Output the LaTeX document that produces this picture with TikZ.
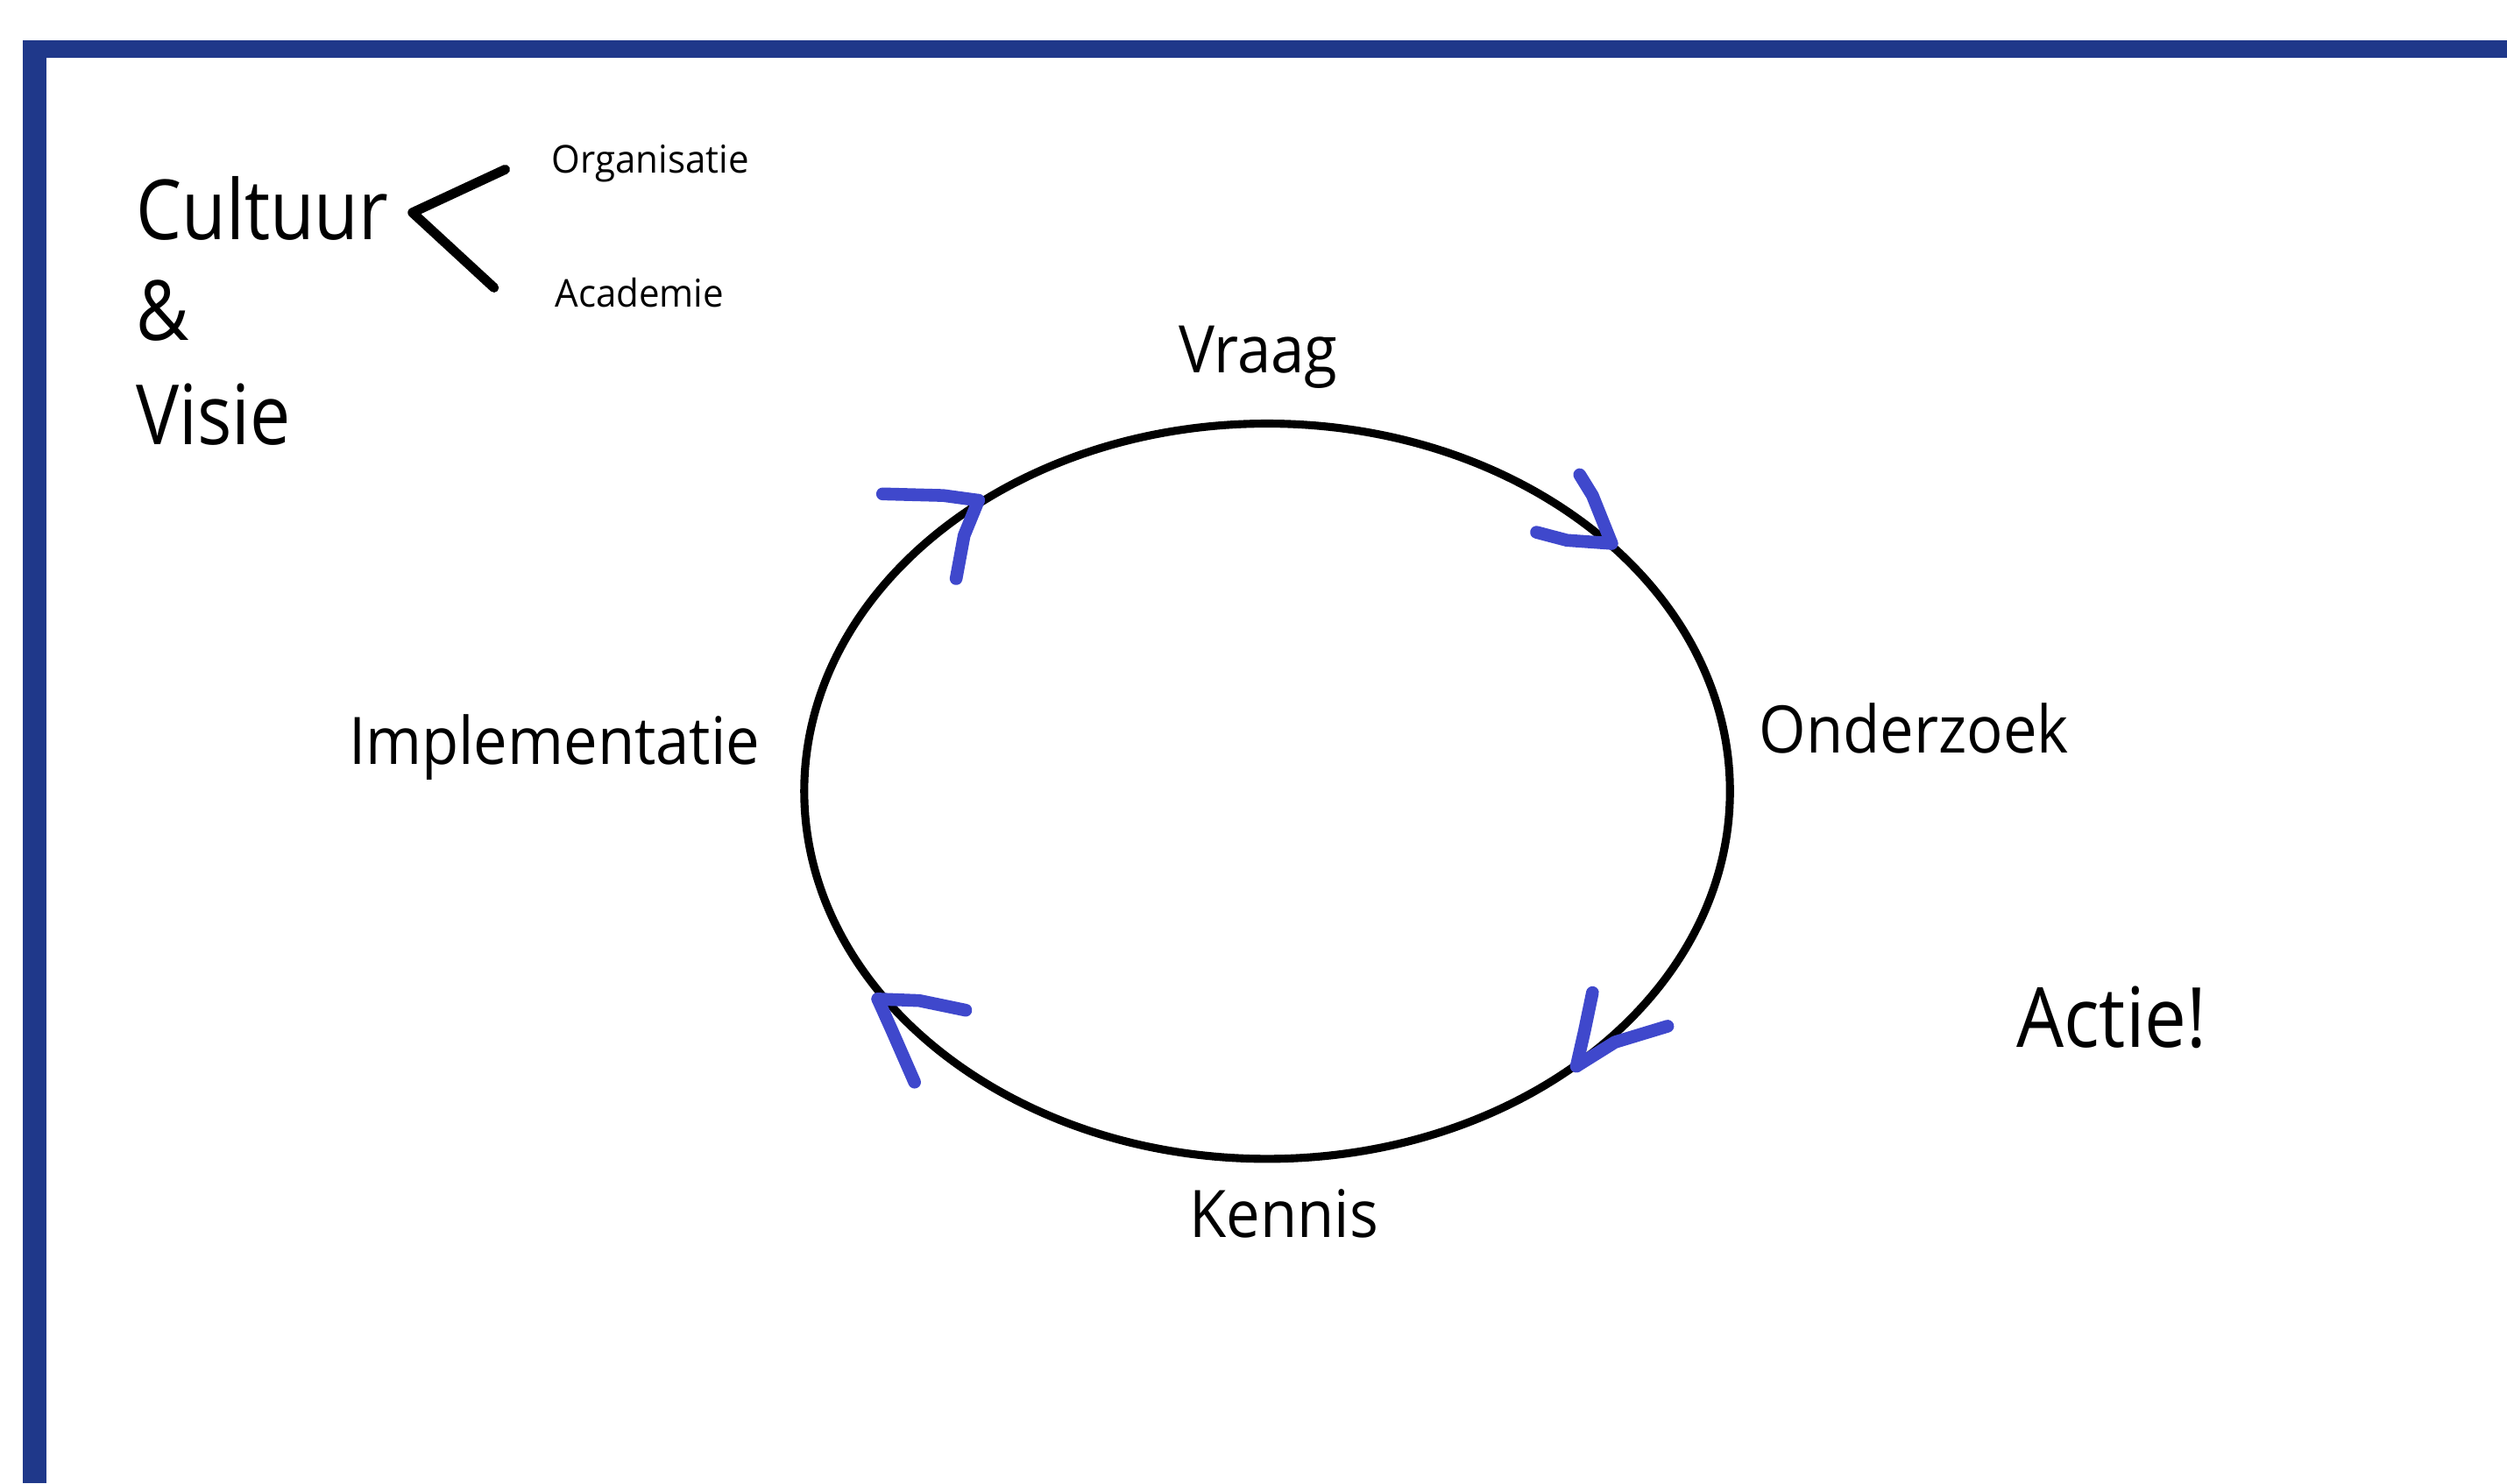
\documentclass[tikz,border=0pt]{standalone}
\usepackage{fontspec}
\usepackage{graphicx}
\setmainfont{Open Sans}
\usetikzlibrary{shapes.geometric}
\definecolor{frameblue}{RGB}{31,56,138}
\definecolor{penblue}{RGB}{63,72,204}
\newcommand{\narrow}[2][0.92]{\scalebox{#1}[1]{#2}}
\tikzset{
  lbl/.style={inner sep=0pt, anchor=base west, font=\fontsize{41}{48}\selectfont},
  big/.style={inner sep=0pt, anchor=base west, font=\fontsize{52}{60}\selectfont},
  small/.style={inner sep=0pt, anchor=base west, font=\fontsize{24}{28}\selectfont},
  pen/.style={penblue, line width=8pt, line cap=round, line join=round},
  ink/.style={black, line width=6pt, line cap=round, line join=round}
}
\begin{document}
\begin{tikzpicture}[x=1pt,y=-1pt]
\useasboundingbox (0,0) rectangle (1568,928);
\fill[white] (0,0) rectangle (1568,928);
\fill[frameblue] (14,25) rectangle (1568,928);
\fill[white] (29,36) rectangle (1568,928);
% titles
\node[big] (cult) at (85,150) {\narrow[0.87]{Cultuur}};
\node[big] (amp) at (85,213) {\narrow[0.87]{\&}};
\node[big] (vis) at (85,278) {\narrow[0.87]{Visie}};
\node[small] (org) at (345,108) {\narrow[0.96]{Organisatie}};
\node[small] (acad) at (347,192) {\narrow[0.96]{Academie}};
\coordinate (chtop) at (316,106);
\coordinate (chtip) at (258,133);
\coordinate (chbot) at (309,180);
\draw[ink] (chtop) -- (chtip) -- (chbot);
% cycle
\node[draw, ellipse, line width=5pt, minimum width=579pt, minimum height=460pt, inner sep=0pt] (cyc) at (792.5,495) {};
\node[lbl, anchor=base] (vraag) at (787,233) {\narrow{Vraag}};
\node[lbl] (ond) at (1100,471) {\narrow{Onderzoek}};
\node[lbl] (impl) at (218,478) {\narrow{Implementatie}};
\node[lbl, anchor=base] (kennis) at (803,774) {\narrow{Kennis}};
\node[big] (actie) at (1261,655) {\narrow[0.9]{Actie!}};
% arrowheads
\coordinate (a1) at (612,313);
\draw[pen] (552,309) -- (590,310) -- (a1);
\draw[pen] (598,362) -- (603,335) -- (a1);
\coordinate (a2) at (1008,340);
\draw[pen] (988,297) -- (996,310) -- (a2);
\draw[pen] (961,333) -- (980,338) -- (a2);
\coordinate (a3) at (986,667);
\draw[pen] (996,621) -- (991,645) -- (a3);
\draw[pen] (1043,642) -- (1010,652) -- (a3);
\coordinate (a4) at (549,625);
\draw[pen] (604,632) -- (575,626) -- (a4);
\draw[pen] (572,677) -- (558,645) -- (a4);
\end{tikzpicture}
\end{document}
